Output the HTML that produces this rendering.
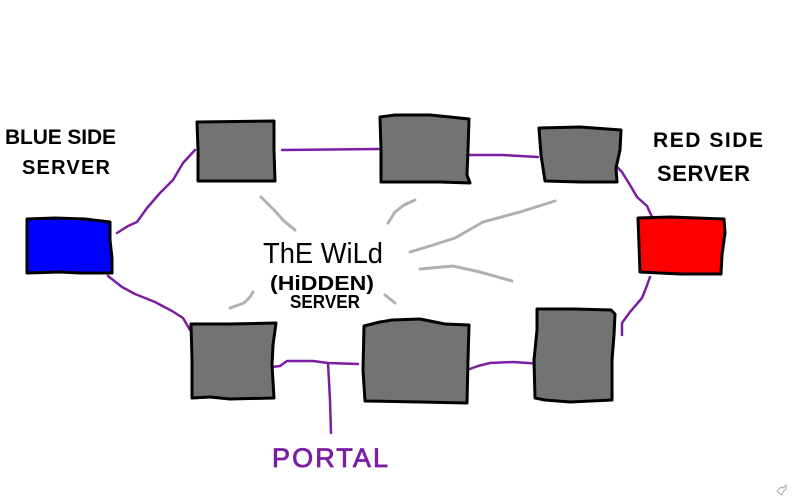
<!DOCTYPE html>
<html><head><meta charset="utf-8"><style>
html,body{margin:0;padding:0;background:#fff;}
svg{display:block;}
text{font-family:"Liberation Sans",sans-serif;}
</style></head><body>
<svg width="795" height="498" viewBox="0 0 795 498" xmlns="http://www.w3.org/2000/svg">
<rect width="795" height="498" fill="#fff"/>
<!-- gray rays -->
<g fill="none" stroke="#b0b0b0" stroke-width="3" stroke-linecap="round" stroke-linejoin="round">
<polyline points="261,197 275,211 284,221 295,230"/>
<polyline points="388,223 395,212 404,205 415,200"/>
<polyline points="410,252 430,246 455,238 483,222 520,212 555,201"/>
<polyline points="420,269 453,266 480,272 512,281"/>
<polyline points="230,308 244,303 250,297 253,292"/>
<polyline points="385,295 395,303"/>
</g>
<!-- purple connectors -->
<g fill="none" stroke="#7b1fa2" stroke-width="2.5" stroke-linecap="round" stroke-linejoin="round">
<polyline points="117,233 128,226 137,222 147,208 160,193 173,180 183,163 195,150"/>
<polyline points="108,276 122,287 135,294 155,302 172,311 183,318 190,330"/>
<polyline points="282,150 379,149"/>
<polyline points="468,155 502,155 538,157"/>
<polyline points="616,166 622,172 630,185 637,197 647,206 652,217"/>
<polyline points="650,277 646,288 642,298 630,312 622,323 622,335"/>
<polyline points="272,367 280,366 287,361 313,361 328,363 358,364"/>
<polyline points="328,363 330,400 331,433"/>
<polyline points="467,370 478,366 490,363 513,362 543,364"/>
</g>
<!-- boxes -->
<g stroke="#000" stroke-width="3" stroke-linejoin="round">
<polygon fill="#0000ff" points="27,219 55,218 85,219 110,222 110,240 112,258 112,273 80,273 60,272 27,273"/>
<polygon fill="#737373" points="197,122 274,121 274,150 275,181 235,181 198,181 198,150"/>
<polygon fill="#737373" points="380,117 395,115 430,115 450,117 469,119 468,150 467,175 470,183 440,182 400,182 381,182 381,150"/>
<polygon fill="#737373" points="539,128 580,127 621,130 620,150 616,168 617,182 580,182 545,181 541,155"/>
<polygon fill="#ff0000" points="638,218 670,217 724,219 725,233 722,255 721,274 680,274 640,272 639,245"/>
<polygon fill="#737373" points="191,324 230,324 276,323 273,345 272,365 274,398 230,399 210,397 192,398 192,360"/>
<polygon fill="#737373" points="364,326 380,322 392,320 420,319 435,322 445,324 469,325 468,360 467,403 420,402 365,401 363,370"/>
<polygon fill="#737373" points="537,309 575,309 611,310 615,314 614,335 612,360 612,400 570,402 545,400 535,398 534,360 537,330"/>
</g>
<!-- labels -->
<g fill="#000" font-weight="bold">
<text x="5" y="144" font-size="21" textLength="111" lengthAdjust="spacing">BLUE SIDE</text>
<text x="22" y="174" font-size="20" textLength="88" lengthAdjust="spacing">SERVER</text>
<text x="653" y="147" font-size="21" textLength="110" lengthAdjust="spacing">RED SIDE</text>
<text x="657" y="181" font-size="22" textLength="93" lengthAdjust="spacing">SERVER</text>
</g>
<g fill="#000">
<text x="263" y="263" font-size="29" textLength="120" lengthAdjust="spacingAndGlyphs">ThE WiLd</text>
<text x="270" y="290" font-size="20" font-weight="bold" textLength="104" lengthAdjust="spacingAndGlyphs">(HiDDEN)</text>
<text x="290" y="308" font-size="18" font-weight="bold" textLength="70" lengthAdjust="spacingAndGlyphs">SERVER</text>
</g>
<text x="272" y="467" font-size="27" fill="#7b1fa2" stroke="#7b1fa2" stroke-width="0.8" textLength="116" lengthAdjust="spacing">PORTAL</text>
<!-- tiny corner icon -->
<g fill="none" stroke="#aaa" stroke-width="1">
<polyline points="777,491 781,487 783,488 786,485 786,489 783,492 782,495 779,493 777,491"/>
</g>
</svg>
</body></html>
